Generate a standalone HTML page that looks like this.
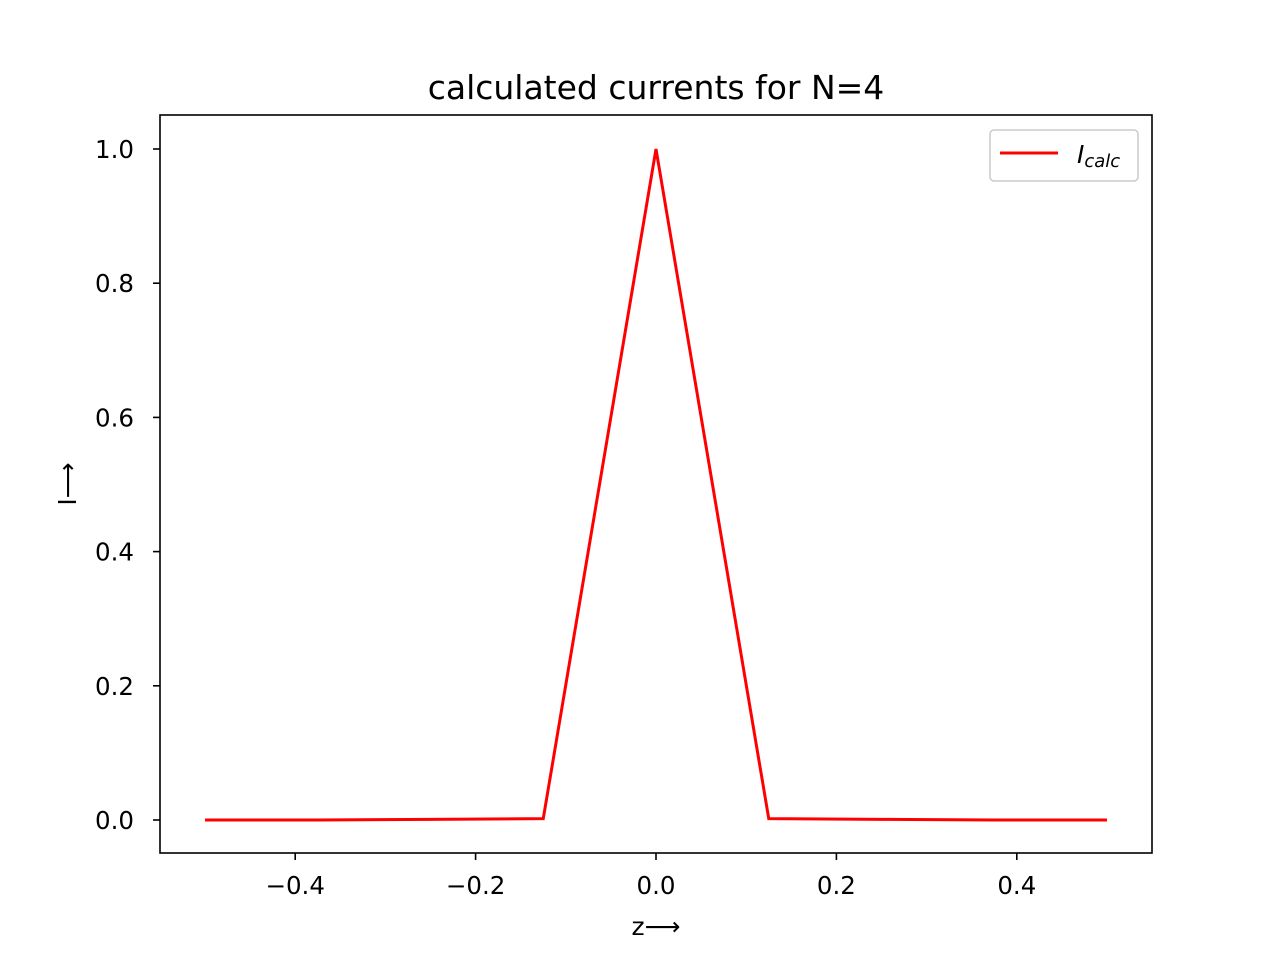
<!DOCTYPE html>
<html><head><meta charset="utf-8"><style>
body{margin:0;background:#fff;}
svg text{font-family:"DejaVu Sans","Liberation Sans",sans-serif;}
</style></head><body>
<svg id="chart" width="1280" height="960" xmlns="http://www.w3.org/2000/svg">
<rect width="1280" height="960" fill="#fff"/>
<text x="656" y="99" font-size="33" text-anchor="middle">calculated currents for N=4</text>
<g id="ticks"></g>
<polyline id="line" fill="none" stroke="#ff0000" stroke-width="3"/>
<rect x="160" y="115" width="992" height="738" fill="none" stroke="#000" stroke-width="1.6"/>
<text x="656" y="935" font-size="25" text-anchor="middle">z⟶</text>
<text transform="translate(76,484) rotate(-90)" font-size="25" text-anchor="middle">I⟶</text>
<g>
<rect x="990" y="130" width="148" height="51" rx="4" fill="#fff" stroke="#ccc" stroke-width="1.6"/>
<line x1="1000" y1="153" x2="1058" y2="153" stroke="#ff0000" stroke-width="3"/>
<text x="1077" y="163" font-size="25" font-style="italic">I<tspan font-size="18" dy="4">calc</tspan></text>
</g>
</svg>
<script>
const xs=[-0.5,-0.375,-0.25,-0.125,0,0.125,0.25,0.375,0.5];
const ys=[0,0,0.001,0.002,1,0.002,0.001,0,0];
const xTicks=[-0.4,-0.2,0.0,0.2,0.4];
const xTickLabels=["−0.4","−0.2","0.0","0.2","0.4"];
const yTicks=[0,0.2,0.4,0.6,0.8,1.0];
const yTickLabels=["0.0","0.2","0.4","0.6","0.8","1.0"];
const X=v=>656+v*902, Y=v=>820-v*671;
const NS="http://www.w3.org/2000/svg";
const line=document.getElementById('line');
line.setAttribute('points',xs.map((x,i)=>X(x)+','+Y(ys[i])).join(' '));
const g=document.getElementById('ticks');
xTicks.forEach((t,i)=>{
 const l=document.createElementNS(NS,'line');
 l.setAttribute('x1',X(t));l.setAttribute('x2',X(t));l.setAttribute('y1',853);l.setAttribute('y2',860);l.setAttribute('stroke','#000');l.setAttribute('stroke-width','1.6');
 
 
 g.appendChild(l);
 const tx=document.createElementNS(NS,'text');
 tx.setAttribute('x',X(t));tx.setAttribute('y',894);tx.setAttribute('font-size','24.5');tx.setAttribute('text-anchor','middle');tx.textContent=xTickLabels[i];
 
 
 g.appendChild(tx);
});
yTicks.forEach((t,i)=>{
 const l=document.createElementNS(NS,'line');
 l.setAttribute('x1',153);l.setAttribute('x2',160);l.setAttribute('y1',Y(t));l.setAttribute('y2',Y(t));l.setAttribute('stroke','#000');l.setAttribute('stroke-width','1.6');
 
 
 g.appendChild(l);
 const tx=document.createElementNS(NS,'text');
 tx.setAttribute('x',134);tx.setAttribute('y',Y(t)+9);tx.setAttribute('font-size','24.5');tx.setAttribute('text-anchor','end');tx.textContent=yTickLabels[i];
 
 
 g.appendChild(tx);
});
</script>
</body></html>
